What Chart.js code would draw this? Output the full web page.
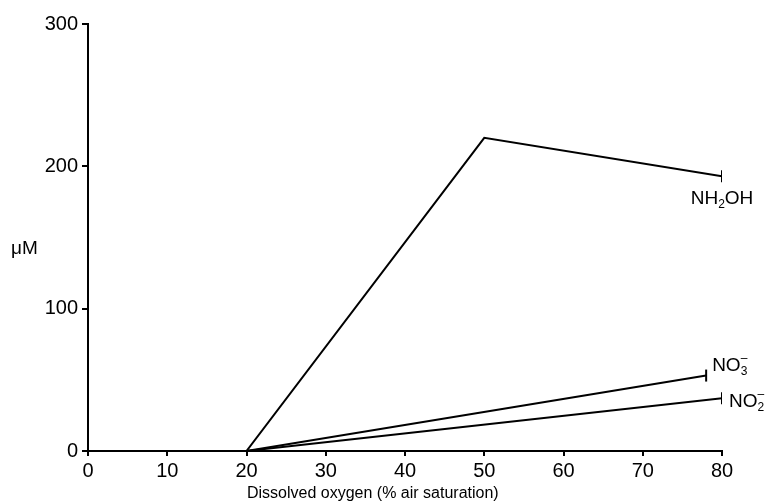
<!DOCTYPE html>
<html>
<head>
<meta charset="utf-8">
<script src="https://cdn.jsdelivr.net/npm/chart.js@4/dist/chart.umd.min.js"></script>
<style>
  html, body { margin: 0; padding: 0; background: #fff; }
  #wrap { width: 770px; height: 504px; }
</style>
</head>
<body>
<div id="wrap"><canvas id="grafico" width="770" height="504"></canvas></div>
<script>
// valores
const oxigenioNH2OH = [0, 20, 50, 80];
const valoresNH2OH = [0, 0, 220, 193];
const oxigenioNO3 = [0, 20, 78];
const valoresNO3 = [0, 0, 53];
const oxigenioNO2 = [0, 20, 80];
const valoresNO2 = [0, 0, 37];
const ticksX = [0, 10, 20, 30, 40, 50, 60, 70, 80];
const ticksY = [0, 100, 200, 300];

const fonte = '"Liberation Sans", Arial, sans-serif';

function pontos(xs, ys) {
    return xs.map((x, i) => ({ x: x, y: ys[i] }));
}

function serie(nome, xs, ys) {
    return {
        label: nome,
        data: pontos(xs, ys),
        borderColor: '#000',
        borderWidth: 2,
        tension: 0,
        pointStyle: 'line',
        rotation: 90,
        pointBorderColor: '#000',
        pointBorderWidth: 2,
        pointRadius: ctx => ctx.dataIndex === xs.length - 1 ? 6 : 0,
        pointHoverRadius: 0
    };
}

// texto com subscrito / sobrescrito
function escreverQuimica(ctx, partes, x, y, alinhar) {
    const tam = 19, tamPeq = 12;
    let largura = 0;
    partes.forEach(p => {
        ctx.font = (p.t === 'n' ? tam : tamPeq) + 'px ' + fonte;
        p.w = ctx.measureText(p.s).width;
        if (p.t !== 'sup') largura += p.w;
    });
    let cx = alinhar === 'center' ? x - largura / 2 : x;
    let ultimoX = cx;
    ctx.fillStyle = '#000';
    ctx.textAlign = 'left';
    ctx.textBaseline = 'alphabetic';
    partes.forEach(p => {
        ctx.font = (p.t === 'n' ? tam : tamPeq) + 'px ' + fonte;
        if (p.t === 'n') {
            ctx.fillText(p.s, cx, y);
            cx += p.w;
        } else if (p.t === 'sub') {
            ultimoX = cx;
            ctx.fillText(p.s, cx, y + 4);
            cx += p.w;
        } else {
            ctx.fillText(p.s, ultimoX, y - 9);
        }
    });
}

const rotulos = {
    id: 'rotulos',
    afterDatasetsDraw(chart) {
        const ctx = chart.ctx;
        const sx = chart.scales.x, sy = chart.scales.y;
        ctx.save();

        // NH2OH abaixo do fim da linha
        const n = oxigenioNH2OH.length - 1;
        escreverQuimica(ctx, [{ t: 'n', s: 'NH' }, { t: 'sub', s: '2' }, { t: 'n', s: 'OH' }],
            sx.getPixelForValue(oxigenioNH2OH[n]), sy.getPixelForValue(valoresNH2OH[n]) + 28, 'center');

        const a = oxigenioNO3.length - 1;
        escreverQuimica(ctx, [{ t: 'n', s: 'NO' }, { t: 'sub', s: '3' }, { t: 'sup', s: '\u2013' }],
            sx.getPixelForValue(oxigenioNO3[a]) + 6, sy.getPixelForValue(valoresNO3[a]) - 5, 'left');

        const b = oxigenioNO2.length - 1;
        escreverQuimica(ctx, [{ t: 'n', s: 'NO' }, { t: 'sub', s: '2' }, { t: 'sup', s: '\u2013' }],
            sx.getPixelForValue(oxigenioNO2[b]) + 7, sy.getPixelForValue(valoresNO2[b]) + 9, 'left');

        // titulos dos eixos
        ctx.font = '16px ' + fonte;
        ctx.textAlign = 'left';
        ctx.textBaseline = 'alphabetic';
        ctx.fillText('Dissolved oxygen (% air saturation)', 247, 498);
        ctx.font = '19px ' + fonte;
        ctx.fillText('\u03bcM', 11, 254);
        ctx.restore();
    }
};

new Chart(document.getElementById('grafico').getContext('2d'), {
    type: 'line',
    data: {
        datasets: [
            serie('NH2OH', oxigenioNH2OH, valoresNH2OH),
            serie('NO3-', oxigenioNO3, valoresNO3),
            serie('NO2-', oxigenioNO2, valoresNO2)
        ]
    },
    options: {
        responsive: false,
        animation: false,
        layout: { padding: { left: 0, right: 48, top: 24, bottom: 0 } },
        plugins: {
            legend: { display: false },
            tooltip: { enabled: false }
        },
        scales: {
            x: {
                type: 'linear',
                min: 0,
                max: 80,
                afterBuildTicks: scale => { scale.ticks = ticksX.map(v => ({ value: v })); },
                afterFit: scale => { scale.height = 53; },
                border: { color: '#000', width: 2 },
                grid: { drawOnChartArea: false, color: '#000', lineWidth: 2, tickLength: 5 },
                ticks: { color: '#000', font: { family: fonte, size: 20 }, padding: 3, maxRotation: 0 }
            },
            y: {
                min: 0,
                max: 300,
                afterBuildTicks: scale => { scale.ticks = ticksY.map(v => ({ value: v })); },
                afterFit: scale => { scale.width = 88; },
                border: { color: '#000', width: 2 },
                grid: { drawOnChartArea: false, color: '#000', lineWidth: 2, tickLength: 6 },
                ticks: { color: '#000', font: { family: fonte, size: 20 }, padding: 4 }
            }
        }
    },
    plugins: [rotulos]
});
</script>
</body>
</html>
